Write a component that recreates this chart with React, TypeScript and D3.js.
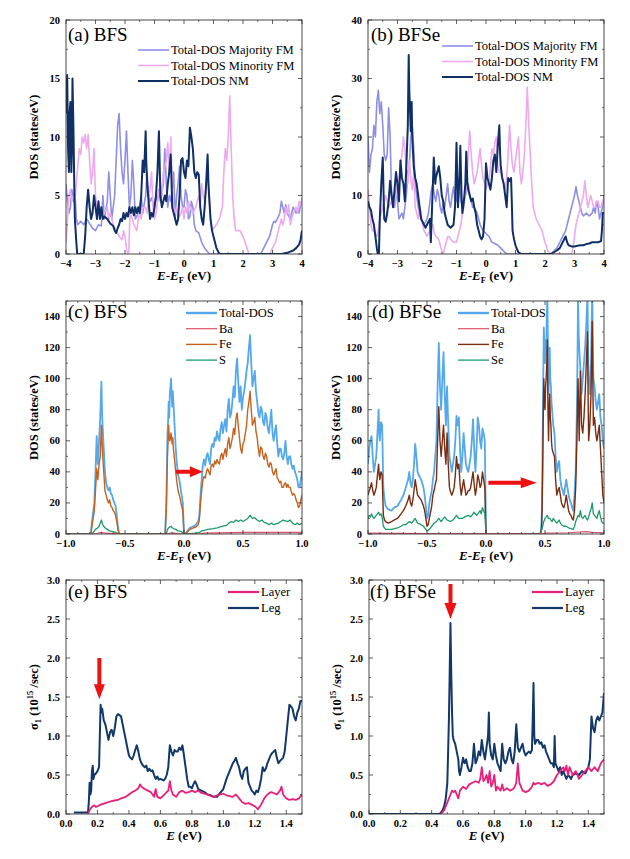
import React from "react";
import * as d3 from "d3";

type P = [number, number];

// ---------- Panel (a) BFS : total DOS ----------
const aMaj: P[] = [[-4,6],[-3.95,4.5],[-3.9,3.5],[-3.85,4],[-3.8,5.5],[-3.75,4.5],[-3.7,5.5],[-3.65,3],[-3.6,2.5],[-3.5,2.8],[-3.4,2.5],[-3.3,3],[-3.2,2.6],[-3.1,2.2],[-3.0,2],[-2.9,2.5],[-2.8,2.4],[-2.75,5],[-2.7,3],[-2.6,4.5],[-2.55,7],[-2.5,5],[-2.45,3],[-2.35,5],[-2.3,8],[-2.25,11],[-2.2,12],[-2.15,9],[-2.1,7],[-2.05,6],[-2.0,8],[-1.95,10.5],[-1.9,7],[-1.85,4],[-1.8,5],[-1.75,8],[-1.7,6],[-1.65,3],[-1.6,3.2],[-1.5,4],[-1.45,5],[-1.4,3.5],[-1.3,5],[-1.25,7],[-1.2,5],[-1.15,4.5],[-1.1,4.8],[-1.0,4],[-0.95,5],[-0.9,4.5],[-0.85,5.5],[-0.8,4.5],[-0.7,6],[-0.65,9],[-0.6,6],[-0.55,4],[-0.5,5],[-0.45,4.5],[-0.4,5.5],[-0.35,7],[-0.3,3],[-0.25,5],[-0.2,6],[-0.15,7.5],[-0.1,5],[-0.05,4],[0,4],[0.05,5.5],[0.1,5],[0.15,3],[0.2,3.2],[0.25,4.5],[0.3,4],[0.35,2.5],[0.4,2],[0.5,1.8],[0.55,1.4],[0.6,1],[0.7,0.5],[0.8,0.2],[0.85,0],[2.6,0],[2.7,0.5],[2.8,1],[2.9,1.5],[3.0,2.5],[3.05,2.8],[3.1,2.7],[3.2,3.2],[3.25,3.5],[3.3,4.5],[3.35,4],[3.4,3.5],[3.45,4.2],[3.5,3.5],[3.6,3],[3.7,4],[3.8,3.5],[3.85,3.8],[3.9,3.5],[3.95,4.2],[4,4.5]];
const aMin: P[] = [[-4,1],[-3.97,2],[-3.95,3],[-3.9,5],[-3.85,5.5],[-3.8,4.5],[-3.75,5],[-3.7,4.5],[-3.65,6],[-3.6,7.5],[-3.55,9],[-3.5,8.5],[-3.45,10],[-3.4,9.5],[-3.35,10.2],[-3.3,9],[-3.25,10.2],[-3.2,8],[-3.15,6],[-3.1,7],[-3.05,9],[-3.0,5],[-2.95,4],[-2.9,3.5],[-2.8,3],[-2.7,3.5],[-2.6,4],[-2.55,3],[-2.5,3.5],[-2.4,2.5],[-2.3,2],[-2.2,1.5],[-2.1,1.2],[-2.05,2],[-2.0,1.5],[-1.95,0.5],[-1.9,0],[-1.87,0.3],[-1.83,3.5],[-1.75,3],[-1.7,2.5],[-1.6,2],[-1.55,3],[-1.5,3.5],[-1.45,3],[-1.4,4],[-1.3,4],[-1.25,3.5],[-1.2,4.5],[-1.15,5.5],[-1.1,7],[-1.05,4],[-1.0,3],[-0.95,3.5],[-0.9,4.5],[-0.8,6],[-0.75,5],[-0.7,7],[-0.6,8],[-0.55,9.5],[-0.5,7],[-0.45,10],[-0.4,6],[-0.35,4],[-0.3,3.5],[-0.25,4],[-0.2,3],[-0.1,3.5],[-0.05,4],[0,3],[0.05,4],[0.1,3.5],[0.15,4.5],[0.2,4],[0.3,3.5],[0.4,4],[0.5,5],[0.55,4],[0.6,6],[0.65,5],[0.7,4.5],[0.75,5.5],[0.8,7],[0.85,5],[0.9,3],[0.95,2],[1.0,2.2],[1.1,2.5],[1.2,3],[1.3,4],[1.35,7],[1.4,9],[1.45,8],[1.5,10],[1.55,13.5],[1.6,9],[1.65,5],[1.7,3],[1.75,2],[1.8,2],[1.9,2],[2.0,1.5],[2.1,0.8],[2.2,0],[2.9,0],[3.0,0.5],[3.1,1],[3.2,2],[3.3,3],[3.35,2.5],[3.4,3],[3.45,4],[3.5,3.5],[3.55,4.2],[3.6,2.5],[3.65,3],[3.7,3.5],[3.8,4],[3.85,3.5],[3.9,4.5],[3.95,4.2],[4,4.8]];
const aNM: P[] = [[-4,12],[-3.98,14],[-3.96,15.3],[-3.93,9],[-3.9,7],[-3.88,12],[-3.85,13],[-3.82,7],[-3.8,9],[-3.78,15],[-3.75,11],[-3.72,6],[-3.7,3],[-3.65,1],[-3.62,0],[-3.4,0],[-3.35,1.5],[-3.3,4],[-3.25,5.5],[-3.2,4],[-3.15,3],[-3.1,3.5],[-3.05,5],[-3.0,4],[-2.95,3],[-2.9,4.5],[-2.85,3],[-2.8,4],[-2.75,3],[-2.7,3.2],[-2.6,3],[-2.5,2.6],[-2.4,2.4],[-2.35,2],[-2.3,1.8],[-2.25,2.2],[-2.2,2.5],[-2.15,3],[-2.1,2.8],[-2.05,3.5],[-2.0,3],[-1.95,3.5],[-1.9,3.2],[-1.85,4],[-1.8,3.5],[-1.75,4],[-1.7,3.3],[-1.65,4],[-1.6,3.5],[-1.55,4],[-1.5,3.5],[-1.45,5],[-1.4,8],[-1.35,7],[-1.3,10.5],[-1.28,8],[-1.25,6],[-1.2,4.5],[-1.15,3],[-1.1,3.5],[-1.05,3.2],[-1.0,4],[-0.95,5],[-0.9,7],[-0.85,10.5],[-0.8,5],[-0.75,4],[-0.7,4.5],[-0.65,5],[-0.6,4.5],[-0.55,6],[-0.5,7],[-0.45,8.5],[-0.42,6],[-0.4,4],[-0.35,3.5],[-0.3,3],[-0.25,2.5],[-0.2,3],[-0.15,5],[-0.1,8],[-0.05,8.2],[0,7],[0.05,6.5],[0.1,8],[0.15,7.5],[0.2,10.8],[0.25,10],[0.3,9],[0.35,7],[0.4,6.5],[0.45,7],[0.5,6.8],[0.55,4],[0.6,3],[0.65,2.5],[0.7,4],[0.75,6],[0.8,8.5],[0.83,6],[0.85,5],[0.9,3],[0.95,2],[1.0,1.5],[1.05,1],[1.1,0.5],[1.2,0],[3.3,0],[3.5,0.1],[3.6,0.2],[3.7,0.3],[3.8,0.5],[3.9,0.8],[3.95,1.2],[4,2]];

// ---------- Panel (b) BFSe : total DOS ----------
const bMaj: P[] = [[-4,20],[-3.97,16],[-3.95,14],[-3.9,17],[-3.85,18],[-3.8,22],[-3.75,20],[-3.7,26],[-3.65,28],[-3.6,24],[-3.55,26],[-3.5,22],[-3.45,17],[-3.4,16],[-3.35,17],[-3.3,25],[-3.25,20],[-3.2,10],[-3.15,9],[-3.1,8],[-3.05,11],[-3.0,9],[-2.95,6],[-2.9,6.5],[-2.85,7],[-2.8,6],[-2.75,8],[-2.7,10],[-2.65,14],[-2.6,15],[-2.55,20],[-2.5,22],[-2.45,18],[-2.4,12],[-2.35,10],[-2.3,8],[-2.2,6],[-2.1,5],[-2.0,6],[-1.95,7],[-1.9,9],[-1.85,11],[-1.8,12],[-1.75,10],[-1.7,9],[-1.65,11],[-1.6,10],[-1.55,8],[-1.5,7],[-1.45,9],[-1.4,8],[-1.35,10],[-1.3,12],[-1.25,9],[-1.2,8],[-1.15,10],[-1.1,11.5],[-1.05,9],[-1.0,9],[-0.95,11],[-0.9,12],[-0.85,9],[-0.8,8],[-0.75,9],[-0.7,10],[-0.65,11],[-0.6,12],[-0.55,10],[-0.5,9],[-0.45,8],[-0.4,8],[-0.35,7.5],[-0.3,7],[-0.2,5],[-0.1,4],[0,3.5],[0.1,3],[0.2,2],[0.3,1.8],[0.4,1.5],[0.5,1],[0.6,0.5],[0.7,0],[2.2,0],[2.3,0.5],[2.4,1],[2.5,2],[2.6,3],[2.7,4],[2.75,5],[2.85,7],[2.9,8],[2.95,9],[3.0,10],[3.05,11.5],[3.1,10],[3.15,9],[3.2,8],[3.25,7],[3.3,6.5],[3.4,7],[3.5,6.5],[3.6,7],[3.65,8],[3.7,7],[3.75,9],[3.8,8],[3.85,6],[3.9,7],[3.95,8],[4,10]];
const bMin: P[] = [[-4,11],[-3.95,8],[-3.9,5],[-3.85,4],[-3.8,4],[-3.75,3.5],[-3.7,3],[-3.65,4],[-3.6,6],[-3.55,7],[-3.5,8],[-3.45,9],[-3.4,10],[-3.35,9],[-3.3,8],[-3.25,8.5],[-3.2,9],[-3.15,8],[-3.1,9],[-3.05,10],[-3.0,12],[-2.95,13],[-2.9,15],[-2.85,17],[-2.8,20],[-2.75,18],[-2.7,14],[-2.65,12],[-2.6,16],[-2.55,13],[-2.5,11],[-2.45,14],[-2.4,8],[-2.35,7],[-2.3,6],[-2.25,8],[-2.2,7],[-2.15,5],[-2.1,4],[-2.0,3],[-1.95,3.5],[-1.9,4],[-1.85,5],[-1.8,5],[-1.75,3.5],[-1.7,3],[-1.6,2.5],[-1.55,1.5],[-1.5,0.5],[-1.45,0],[-1.4,1],[-1.35,2],[-1.3,3],[-1.25,3],[-1.2,2.5],[-1.1,2],[-1.0,2],[-0.95,3],[-0.9,4],[-0.85,5],[-0.8,7],[-0.75,8],[-0.7,10],[-0.65,13],[-0.6,17],[-0.55,21],[-0.5,17],[-0.45,14],[-0.4,12],[-0.35,13],[-0.3,14],[-0.25,16],[-0.2,18],[-0.15,15],[-0.1,13],[-0.05,12],[0,11],[0.05,12],[0.1,12],[0.15,15],[0.2,18],[0.25,17],[0.3,19],[0.35,20],[0.4,15],[0.45,14],[0.5,14],[0.55,13],[0.6,12],[0.65,11],[0.7,13],[0.75,17],[0.8,22],[0.85,18],[0.9,15],[0.95,14],[1.0,16],[1.05,18],[1.1,20],[1.15,14],[1.2,12],[1.25,14],[1.3,17],[1.35,22],[1.4,28.5],[1.45,22],[1.5,17],[1.55,12],[1.6,8],[1.65,7],[1.7,6],[1.8,5],[1.9,4],[2.0,2],[2.1,0.5],[2.2,0],[2.9,0],[2.95,1],[3.0,3],[3.05,5],[3.1,6],[3.15,7],[3.2,8],[3.25,9],[3.3,10],[3.35,12.5],[3.4,10],[3.45,8],[3.5,9],[3.55,10],[3.6,9],[3.65,8],[3.7,8],[3.75,9],[3.8,9],[3.85,8],[3.9,8],[3.95,9],[4,9.5]];
const bNM: P[] = [[-4,9],[-3.95,8],[-3.9,7.5],[-3.85,6],[-3.8,5],[-3.75,3],[-3.7,1],[-3.67,0],[-3.63,0],[-3.6,6],[-3.55,12],[-3.5,16.5],[-3.47,10],[-3.45,6],[-3.4,5.5],[-3.35,7],[-3.3,9],[-3.25,12.5],[-3.2,10],[-3.15,8],[-3.1,11],[-3.05,14],[-3.0,12],[-2.95,9],[-2.9,16],[-2.85,13],[-2.8,12],[-2.75,9],[-2.7,15],[-2.65,22],[-2.62,34],[-2.6,28],[-2.55,21],[-2.52,26],[-2.5,20],[-2.45,15],[-2.4,13],[-2.35,12],[-2.3,10],[-2.25,8],[-2.2,6],[-2.1,5],[-2.05,4.5],[-2.0,5],[-1.95,5.5],[-1.9,6],[-1.87,2],[-1.8,12],[-1.77,16.5],[-1.72,12],[-1.7,13],[-1.65,14],[-1.6,15],[-1.55,13],[-1.5,10],[-1.45,9],[-1.4,7],[-1.35,6],[-1.3,5],[-1.2,4.5],[-1.1,5],[-1.05,8],[-1.0,19],[-0.97,12],[-0.95,8],[-0.9,13],[-0.87,18.5],[-0.83,10],[-0.8,7],[-0.75,9],[-0.7,12],[-0.67,17.5],[-0.63,12],[-0.6,11],[-0.55,10],[-0.5,9],[-0.45,9.5],[-0.4,8],[-0.35,7],[-0.3,5],[-0.25,4],[-0.2,3],[-0.15,2.5],[-0.1,3],[-0.05,6],[0,15.5],[0.05,13],[0.1,12],[0.15,11],[0.2,13],[0.25,16],[0.3,17],[0.35,14],[0.4,18.5],[0.45,22],[0.48,17],[0.5,15],[0.55,13],[0.6,12],[0.65,10],[0.7,8],[0.75,13],[0.8,12.5],[0.85,13],[0.88,8],[0.9,4],[0.95,2.5],[1.0,1.5],[1.05,0.8],[1.1,0.3],[1.2,0],[2.2,0],[2.3,0.3],[2.4,0.6],[2.5,1],[2.6,2],[2.7,3],[2.75,2],[2.8,1.5],[2.9,1.3],[3.0,1.3],[3.1,1.4],[3.2,1.5],[3.3,1.5],[3.4,1.7],[3.5,1.8],[3.6,2],[3.7,2],[3.8,2],[3.9,2.2],[3.93,4],[3.96,7],[4,7]];

// ---------- Panel (c) BFS : projected DOS ----------
const cTotal: P[] = [[-1,0],[-0.79,0],[-0.78,8],[-0.76,20],[-0.75,40],[-0.74,63],[-0.735,50],[-0.73,45],[-0.72,60],[-0.71,75],[-0.70,98],[-0.695,80],[-0.69,70],[-0.68,55],[-0.67,40],[-0.66,33],[-0.65,30],[-0.64,28],[-0.63,30],[-0.62,26],[-0.61,25],[-0.60,22],[-0.59,20],[-0.58,18],[-0.57,12],[-0.56,5],[-0.55,0],[-0.16,0],[-0.15,20],[-0.14,65],[-0.135,72],[-0.13,85],[-0.125,75],[-0.12,90],[-0.11,100],[-0.10,82],[-0.095,92],[-0.09,85],[-0.08,70],[-0.07,55],[-0.06,45],[-0.05,38],[-0.04,35],[-0.03,30],[-0.02,25],[-0.01,20],[0,0],[0.01,0],[0.03,2],[0.05,4],[0.08,5],[0.1,6],[0.12,8],[0.13,12],[0.14,25],[0.15,35],[0.16,45],[0.17,48],[0.18,44],[0.19,50],[0.2,52],[0.21,48],[0.22,45],[0.23,55],[0.24,58],[0.25,56],[0.26,62],[0.27,60],[0.28,66],[0.29,62],[0.3,60],[0.31,68],[0.32,72],[0.33,65],[0.34,70],[0.35,74],[0.36,66],[0.37,80],[0.38,87],[0.39,75],[0.4,78],[0.41,85],[0.42,95],[0.43,88],[0.44,105],[0.45,113],[0.46,98],[0.47,85],[0.48,95],[0.49,80],[0.5,88],[0.51,92],[0.52,98],[0.53,105],[0.54,110],[0.55,120],[0.56,128],[0.57,110],[0.58,95],[0.59,100],[0.6,105],[0.61,92],[0.62,85],[0.63,78],[0.64,75],[0.65,82],[0.66,80],[0.67,72],[0.68,70],[0.69,78],[0.7,75],[0.71,68],[0.72,65],[0.73,72],[0.74,80],[0.75,65],[0.76,60],[0.77,66],[0.78,70],[0.79,58],[0.8,50],[0.81,55],[0.82,55],[0.83,50],[0.84,48],[0.85,52],[0.86,60],[0.87,50],[0.88,45],[0.89,50],[0.9,50],[0.91,45],[0.92,42],[0.93,44],[0.94,40],[0.95,38],[0.96,35],[0.97,30],[0.98,30],[0.99,35],[1.0,40]];
const cFe: P[] = [[-1,0],[-0.79,0],[-0.78,5],[-0.76,15],[-0.75,28],[-0.74,42],[-0.735,38],[-0.73,35],[-0.72,45],[-0.71,50],[-0.70,70],[-0.695,60],[-0.69,52],[-0.68,40],[-0.67,28],[-0.66,25],[-0.65,22],[-0.64,20],[-0.63,22],[-0.62,18],[-0.61,17],[-0.60,15],[-0.59,14],[-0.58,12],[-0.57,8],[-0.56,3],[-0.55,0],[-0.16,0],[-0.15,15],[-0.14,50],[-0.135,60],[-0.13,70],[-0.125,62],[-0.12,60],[-0.11,65],[-0.10,58],[-0.095,62],[-0.09,55],[-0.08,48],[-0.07,40],[-0.06,33],[-0.05,28],[-0.04,25],[-0.03,22],[-0.02,18],[-0.01,15],[0,0],[0.01,0],[0.03,1.5],[0.05,3],[0.08,4],[0.1,4.5],[0.12,6],[0.13,9],[0.14,20],[0.15,28],[0.16,35],[0.17,37],[0.18,36],[0.19,40],[0.2,42],[0.21,40],[0.22,38],[0.23,44],[0.24,45],[0.25,43],[0.26,47],[0.27,45],[0.28,48],[0.29,46],[0.3,45],[0.31,50],[0.32,52],[0.33,48],[0.34,52],[0.35,55],[0.36,50],[0.37,58],[0.38,62],[0.39,55],[0.4,58],[0.41,62],[0.42,68],[0.43,64],[0.44,74],[0.45,78],[0.46,70],[0.47,62],[0.48,55],[0.49,52],[0.5,58],[0.51,60],[0.52,65],[0.53,70],[0.54,80],[0.55,85],[0.56,92],[0.57,80],[0.58,70],[0.59,72],[0.6,75],[0.61,66],[0.62,62],[0.63,55],[0.64,50],[0.65,56],[0.66,55],[0.67,50],[0.68,48],[0.69,52],[0.7,50],[0.71,45],[0.72,43],[0.73,46],[0.74,45],[0.75,40],[0.76,38],[0.77,40],[0.78,42],[0.79,36],[0.8,35],[0.81,33],[0.82,34],[0.83,30],[0.84,30],[0.85,32],[0.86,33],[0.87,30],[0.88,32],[0.89,30],[0.9,30],[0.91,27],[0.92,25],[0.93,26],[0.94,25],[0.95,22],[0.96,20],[0.97,17],[0.98,18],[0.99,22],[1.0,25]];
const cS: P[] = [[-1,0],[-0.78,0],[-0.75,3],[-0.73,4],[-0.72,5],[-0.71,7],[-0.70,9],[-0.69,6],[-0.68,5],[-0.67,4],[-0.65,3],[-0.63,2],[-0.6,1.5],[-0.58,1],[-0.55,0],[-0.15,0],[-0.14,3],[-0.13,4],[-0.12,4.5],[-0.11,5],[-0.1,4],[-0.09,3.5],[-0.07,3],[-0.05,2],[-0.02,1.5],[0,0],[0.05,0.3],[0.1,0.5],[0.13,1],[0.15,2],[0.18,2.5],[0.2,3],[0.25,3.5],[0.28,4],[0.3,4.5],[0.33,5],[0.36,5.5],[0.38,7],[0.4,8],[0.42,7.5],[0.44,9],[0.46,8],[0.48,9],[0.5,8],[0.52,9],[0.54,10],[0.56,12],[0.58,10],[0.6,10.5],[0.62,9],[0.64,8],[0.66,9],[0.68,7.5],[0.7,7],[0.72,6],[0.74,7],[0.76,6],[0.78,6.5],[0.8,7],[0.82,8],[0.84,9],[0.86,8.5],[0.88,8],[0.9,9],[0.92,7],[0.94,6],[0.96,7],[0.98,6],[1.0,7]];
const cBa: P[] = [[-1,0],[-0.78,0],[-0.74,0.3],[-0.7,1],[-0.66,0.5],[-0.6,0.2],[-0.55,0],[-0.15,0],[-0.12,0.5],[-0.1,0.7],[-0.05,0.3],[0,0],[0.13,0],[0.16,0.5],[0.3,0.7],[0.5,1],[0.6,1.1],[0.8,1],[1.0,1]];

// ---------- Panel (d) BFSe : projected DOS ----------
const dTotal: P[] = [[-1,45],[-0.99,55],[-0.98,60],[-0.97,63],[-0.96,50],[-0.95,40],[-0.94,45],[-0.93,50],[-0.92,65],[-0.91,80],[-0.905,65],[-0.9,60],[-0.89,72],[-0.88,70],[-0.87,30],[-0.86,22],[-0.85,18],[-0.83,16],[-0.8,15],[-0.78,17],[-0.75,18],[-0.72,22],[-0.7,25],[-0.68,30],[-0.66,35],[-0.65,40],[-0.64,33],[-0.63,30],[-0.62,35],[-0.61,45],[-0.6,58],[-0.59,50],[-0.58,40],[-0.57,38],[-0.55,35],[-0.53,30],[-0.52,25],[-0.51,18],[-0.5,10],[-0.49,12],[-0.48,20],[-0.46,28],[-0.45,35],[-0.44,40],[-0.43,50],[-0.42,60],[-0.41,95],[-0.4,123],[-0.39,95],[-0.38,80],[-0.37,100],[-0.36,117],[-0.35,90],[-0.34,70],[-0.335,85],[-0.33,95],[-0.32,70],[-0.31,50],[-0.3,45],[-0.29,40],[-0.28,45],[-0.27,50],[-0.26,60],[-0.25,76],[-0.24,70],[-0.23,75],[-0.22,55],[-0.21,40],[-0.2,50],[-0.19,65],[-0.18,55],[-0.17,45],[-0.16,42],[-0.15,40],[-0.14,45],[-0.13,50],[-0.12,60],[-0.11,74],[-0.1,55],[-0.09,40],[-0.08,55],[-0.07,75],[-0.06,70],[-0.05,60],[-0.04,55],[-0.03,68],[-0.02,65],[-0.01,60],[-0.005,30],[0,0],[0.46,0],[0.47,5],[0.475,20],[0.48,60],[0.485,100],[0.49,133],[0.495,120],[0.5,110],[0.505,125],[0.51,115],[0.515,140],[0.52,155],[0.525,120],[0.53,90],[0.535,110],[0.54,120],[0.545,100],[0.55,95],[0.555,85],[0.56,80],[0.57,70],[0.58,65],[0.59,50],[0.6,40],[0.61,45],[0.62,47],[0.63,35],[0.64,30],[0.65,28],[0.66,25],[0.67,30],[0.68,35],[0.69,30],[0.7,25],[0.71,22],[0.72,20],[0.73,17],[0.74,15],[0.75,25],[0.76,40],[0.77,80],[0.775,110],[0.78,155],[0.785,130],[0.79,120],[0.8,106],[0.81,90],[0.82,100],[0.83,110],[0.84,120],[0.85,135],[0.86,155],[0.865,120],[0.87,100],[0.88,90],[0.89,110],[0.9,155],[0.905,130],[0.91,100],[0.92,95],[0.93,85],[0.94,80],[0.95,85],[0.96,90],[0.97,75],[0.98,70],[0.99,60],[1.0,55]];
const dFe: P[] = [[-1,25],[-0.99,28],[-0.98,30],[-0.97,33],[-0.96,28],[-0.95,25],[-0.94,27],[-0.93,30],[-0.92,38],[-0.91,45],[-0.905,38],[-0.9,35],[-0.89,40],[-0.88,38],[-0.87,12],[-0.86,9],[-0.85,8],[-0.83,7],[-0.8,8],[-0.78,9],[-0.75,10],[-0.72,13],[-0.7,15],[-0.68,18],[-0.66,22],[-0.65,25],[-0.64,20],[-0.63,18],[-0.62,22],[-0.61,28],[-0.6,35],[-0.59,30],[-0.58,25],[-0.57,24],[-0.55,22],[-0.53,18],[-0.52,15],[-0.51,10],[-0.5,5],[-0.49,6],[-0.48,10],[-0.46,18],[-0.45,25],[-0.44,28],[-0.43,32],[-0.42,35],[-0.41,60],[-0.4,82],[-0.39,60],[-0.38,50],[-0.37,60],[-0.36,70],[-0.35,55],[-0.34,45],[-0.335,55],[-0.33,65],[-0.32,45],[-0.31,30],[-0.3,27],[-0.29,25],[-0.28,27],[-0.27,30],[-0.26,38],[-0.25,50],[-0.24,42],[-0.23,45],[-0.22,32],[-0.21,25],[-0.2,30],[-0.19,35],[-0.18,30],[-0.17,25],[-0.16,26],[-0.15,28],[-0.14,28],[-0.13,30],[-0.12,35],[-0.11,40],[-0.1,32],[-0.09,25],[-0.08,30],[-0.07,38],[-0.06,35],[-0.05,30],[-0.04,32],[-0.03,40],[-0.02,35],[-0.01,30],[-0.005,15],[0,0],[0.46,0],[0.47,3],[0.475,15],[0.48,40],[0.485,75],[0.49,100],[0.495,85],[0.5,80],[0.505,95],[0.51,100],[0.515,110],[0.52,125],[0.525,80],[0.53,60],[0.535,80],[0.54,90],[0.545,75],[0.55,70],[0.555,60],[0.56,55],[0.57,52],[0.58,50],[0.59,35],[0.6,25],[0.61,28],[0.62,30],[0.63,25],[0.64,20],[0.65,18],[0.66,17],[0.67,20],[0.68,25],[0.69,20],[0.7,15],[0.71,13],[0.72,12],[0.73,10],[0.74,9],[0.75,15],[0.76,30],[0.77,60],[0.775,80],[0.78,100],[0.785,80],[0.79,60],[0.8,105],[0.81,70],[0.82,65],[0.83,75],[0.84,90],[0.85,110],[0.86,130],[0.865,90],[0.87,60],[0.88,70],[0.89,90],[0.9,137],[0.905,100],[0.91,70],[0.92,75],[0.93,65],[0.94,60],[0.95,65],[0.96,70],[0.97,55],[0.98,40],[0.99,25],[1.0,20]];
const dSe: P[] = [[-1,10],[-0.99,12],[-0.98,11],[-0.97,13],[-0.96,11],[-0.95,10],[-0.94,11],[-0.93,12],[-0.92,13],[-0.91,14],[-0.9,12],[-0.89,13],[-0.88,11],[-0.87,5],[-0.85,3],[-0.8,3],[-0.75,4],[-0.72,5],[-0.7,6],[-0.68,6],[-0.65,8],[-0.63,7],[-0.6,10],[-0.58,7],[-0.55,6],[-0.53,5],[-0.5,2],[-0.48,3],[-0.46,5],[-0.44,7],[-0.42,8],[-0.4,10],[-0.38,8],[-0.36,10],[-0.35,11],[-0.33,9],[-0.3,8],[-0.28,9],[-0.25,12],[-0.23,10],[-0.2,10],[-0.18,11],[-0.15,12],[-0.13,11],[-0.1,14],[-0.08,12],[-0.07,13],[-0.05,15],[-0.04,13],[-0.03,17],[-0.02,15],[-0.01,13],[0,0],[0.46,0],[0.47,2],[0.48,5],[0.49,8],[0.5,10],[0.51,11],[0.52,12],[0.53,10],[0.54,10],[0.55,9],[0.56,8],[0.57,10],[0.58,9],[0.59,8],[0.6,7],[0.61,8],[0.62,9],[0.63,7],[0.64,6],[0.66,5],[0.68,5],[0.7,4],[0.72,3.5],[0.74,3],[0.75,5],[0.76,8],[0.77,10],[0.78,12],[0.79,11],[0.8,15],[0.81,11],[0.82,10],[0.83,11],[0.84,12],[0.85,10],[0.86,9],[0.87,11],[0.88,14],[0.89,16],[0.9,20],[0.91,13],[0.92,12],[0.93,11],[0.94,10],[0.95,13],[0.96,15],[0.97,11],[0.98,8],[0.99,7],[1.0,7]];
const dBa: P[] = [[-1,0.5],[-0.5,0.3],[0,0.3],[0.46,0],[0.5,0.5],[0.7,0.8],[0.85,1.5],[0.9,1],[1,0.8]];

// ---------- Panel (e) BFS : optical conductivity ----------
const eLeg: P[] = [[0.05,0.02],[0.1,0.02],[0.14,0.02],[0.145,0.15],[0.15,0.4],[0.155,0.25],[0.16,0.3],[0.165,0.55],[0.17,0.62],[0.175,0.45],[0.18,0.5],[0.19,0.52],[0.2,0.55],[0.21,0.6],[0.215,1.0],[0.22,1.4],[0.225,1.3],[0.23,1.35],[0.24,1.2],[0.25,1.15],[0.26,1.05],[0.27,0.95],[0.28,1.05],[0.29,1.08],[0.3,1.0],[0.31,1.1],[0.32,1.25],[0.33,1.28],[0.34,1.27],[0.35,1.25],[0.36,1.15],[0.37,1.05],[0.38,0.95],[0.39,0.85],[0.4,0.75],[0.41,0.72],[0.42,0.7],[0.43,0.75],[0.44,0.82],[0.45,0.88],[0.46,0.8],[0.47,0.7],[0.48,0.65],[0.49,0.62],[0.5,0.6],[0.51,0.62],[0.52,0.55],[0.53,0.58],[0.54,0.55],[0.55,0.56],[0.56,0.5],[0.57,0.45],[0.58,0.48],[0.59,0.44],[0.6,0.45],[0.61,0.44],[0.62,0.43],[0.63,0.45],[0.64,0.5],[0.65,0.6],[0.66,0.88],[0.67,0.8],[0.68,0.75],[0.69,0.82],[0.7,0.8],[0.71,0.8],[0.72,0.85],[0.73,0.82],[0.74,0.88],[0.75,0.75],[0.76,0.6],[0.77,0.45],[0.78,0.35],[0.79,0.35],[0.8,0.33],[0.81,0.38],[0.82,0.42],[0.83,0.38],[0.84,0.32],[0.86,0.3],[0.88,0.28],[0.9,0.25],[0.92,0.24],[0.94,0.22],[0.96,0.22],[0.98,0.27],[1.0,0.32],[1.02,0.45],[1.04,0.55],[1.06,0.65],[1.07,0.68],[1.08,0.72],[1.09,0.65],[1.1,0.6],[1.11,0.5],[1.12,0.45],[1.13,0.55],[1.14,0.58],[1.15,0.6],[1.16,0.4],[1.17,0.35],[1.18,0.3],[1.19,0.28],[1.2,0.25],[1.21,0.3],[1.22,0.28],[1.23,0.35],[1.24,0.45],[1.25,0.6],[1.26,0.55],[1.27,0.58],[1.28,0.65],[1.29,0.7],[1.3,0.75],[1.31,0.78],[1.32,0.8],[1.33,0.82],[1.34,0.72],[1.35,0.65],[1.36,0.68],[1.37,0.7],[1.38,0.72],[1.39,0.8],[1.4,1.0],[1.41,1.2],[1.42,1.4],[1.43,1.38],[1.44,1.35],[1.45,1.25],[1.46,1.2],[1.47,1.3],[1.48,1.35],[1.49,1.45],[1.5,1.45]];
const eLayer: P[] = [[0.14,0],[0.15,0.05],[0.16,0.08],[0.17,0.1],[0.18,0.11],[0.19,0.09],[0.2,0.1],[0.22,0.12],[0.25,0.14],[0.28,0.16],[0.3,0.17],[0.33,0.18],[0.35,0.2],[0.38,0.22],[0.4,0.25],[0.42,0.28],[0.44,0.3],[0.46,0.33],[0.47,0.38],[0.48,0.35],[0.5,0.32],[0.52,0.3],[0.54,0.28],[0.56,0.22],[0.57,0.32],[0.58,0.22],[0.6,0.2],[0.62,0.24],[0.64,0.28],[0.65,0.3],[0.66,0.42],[0.67,0.3],[0.68,0.25],[0.7,0.22],[0.72,0.28],[0.74,0.3],[0.76,0.27],[0.78,0.28],[0.8,0.3],[0.82,0.28],[0.84,0.3],[0.86,0.27],[0.88,0.26],[0.9,0.25],[0.92,0.23],[0.94,0.22],[0.96,0.24],[0.98,0.25],[1.0,0.26],[1.02,0.24],[1.04,0.23],[1.06,0.22],[1.08,0.25],[1.1,0.2],[1.12,0.15],[1.14,0.13],[1.16,0.14],[1.18,0.12],[1.2,0.1],[1.22,0.06],[1.24,0.12],[1.26,0.2],[1.28,0.25],[1.3,0.28],[1.32,0.27],[1.34,0.25],[1.36,0.3],[1.37,0.35],[1.38,0.25],[1.4,0.2],[1.42,0.18],[1.44,0.19],[1.46,0.18],[1.48,0.2],[1.5,0.25]];

// ---------- Panel (f) BFSe : optical conductivity ----------
const fLeg: P[] = [[0,0],[0.45,0],[0.46,0.02],[0.47,0.05],[0.48,0.1],[0.49,0.2],[0.5,0.4],[0.505,0.8],[0.51,1.2],[0.515,1.8],[0.52,2.45],[0.525,1.8],[0.53,1.3],[0.535,1.0],[0.54,0.95],[0.55,0.9],[0.56,0.8],[0.57,0.7],[0.575,0.55],[0.58,0.5],[0.59,0.6],[0.6,0.72],[0.61,0.65],[0.62,0.7],[0.63,0.6],[0.64,0.55],[0.65,0.55],[0.66,0.65],[0.67,0.9],[0.68,0.65],[0.69,0.7],[0.7,0.8],[0.71,0.75],[0.72,0.95],[0.73,0.8],[0.74,0.7],[0.75,0.85],[0.76,1.0],[0.765,1.3],[0.77,0.9],[0.78,0.75],[0.79,0.7],[0.8,0.9],[0.81,0.75],[0.82,0.65],[0.83,0.6],[0.84,0.55],[0.85,0.9],[0.86,0.7],[0.87,0.65],[0.88,0.7],[0.89,0.8],[0.9,0.85],[0.91,0.7],[0.92,0.65],[0.93,0.8],[0.94,1.15],[0.95,0.85],[0.96,0.8],[0.97,0.85],[0.98,0.9],[0.99,0.8],[1.0,0.75],[1.01,0.78],[1.02,0.8],[1.03,0.78],[1.04,0.82],[1.045,1.2],[1.05,1.68],[1.055,1.0],[1.06,0.9],[1.07,0.95],[1.08,0.95],[1.09,0.9],[1.1,0.92],[1.11,0.85],[1.12,0.88],[1.13,0.8],[1.14,0.75],[1.15,0.7],[1.16,0.65],[1.17,0.65],[1.18,0.6],[1.185,1.0],[1.19,0.65],[1.2,0.6],[1.21,0.55],[1.22,0.6],[1.23,0.5],[1.24,0.55],[1.25,0.5],[1.26,0.45],[1.27,0.5],[1.28,0.48],[1.29,0.45],[1.3,0.5],[1.32,0.52],[1.34,0.5],[1.36,0.55],[1.38,0.52],[1.4,0.6],[1.41,0.7],[1.42,1.25],[1.43,1.1],[1.44,1.05],[1.45,1.2],[1.46,1.25],[1.47,1.2],[1.48,1.25],[1.49,1.3],[1.5,1.55]];
const fLayer: P[] = [[0.46,0],[0.48,0.05],[0.5,0.15],[0.52,0.25],[0.53,0.3],[0.54,0.28],[0.55,0.3],[0.56,0.25],[0.57,0.2],[0.58,0.3],[0.6,0.35],[0.62,0.32],[0.64,0.38],[0.66,0.4],[0.68,0.42],[0.7,0.4],[0.71,0.45],[0.72,0.6],[0.73,0.42],[0.74,0.45],[0.75,0.5],[0.76,0.4],[0.77,0.55],[0.78,0.35],[0.79,0.4],[0.8,0.5],[0.81,0.3],[0.82,0.35],[0.84,0.3],[0.85,0.38],[0.86,0.3],[0.88,0.33],[0.9,0.3],[0.92,0.32],[0.93,0.35],[0.94,0.4],[0.95,0.65],[0.96,0.4],[0.97,0.35],[0.98,0.3],[1.0,0.28],[1.02,0.3],[1.04,0.35],[1.05,0.4],[1.06,0.38],[1.08,0.4],[1.1,0.38],[1.12,0.4],[1.14,0.36],[1.16,0.38],[1.18,0.42],[1.2,0.5],[1.22,0.55],[1.24,0.6],[1.25,0.55],[1.26,0.62],[1.27,0.5],[1.28,0.6],[1.3,0.5],[1.32,0.55],[1.34,0.45],[1.36,0.5],[1.38,0.55],[1.4,0.6],[1.42,0.55],[1.44,0.6],[1.46,0.55],[1.48,0.65],[1.5,0.7]];

// ---------- ticks ----------
const ticksEwide = [-4, -3, -2, -1, 0, 1, 2, 3, 4];
const ticksDOSa = [0, 5, 10, 15, 20];
const ticksDOSb = [0, 10, 20, 30, 40];
const ticksEnarrow = [-1, -0.5, 0, 0.5, 1];
const ticksPDOS = [0, 20, 40, 60, 80, 100, 120, 140];
const ticksEopt = [0, 0.2, 0.4, 0.6, 0.8, 1.0, 1.2, 1.4];
const ticksSigma = [0, 0.5, 1.0, 1.5, 2.0, 2.5, 3.0];

// ---------- legends ----------
const legendA = ["Total-DOS Majority FM", "Total-DOS Minority FM", "Total-DOS NM"];
const legendC = ["Total-DOS", "Ba", "Fe", "S"];
const legendD = ["Total-DOS", "Ba", "Fe", "Se"];
const legendE = ["Layer", "Leg"];

const FONT = "'Liberation Serif', 'Times New Roman', serif";
const C = {
  maj: "#8f8fe6",
  min: "#eeaaee",
  nm: "#0f2f66",
  tot: "#55a8ec",
  ba: "#e0506a",
  feC: "#c4621e",
  feD: "#7a2c10",
  s: "#1e9a6a",
  layer: "#e8207a",
  leg: "#12386a",
  arrow: "#ee1111",
};

type Series = { data: P[]; color: string; w: number };
type Arrow = { from: P; to: P; head: number; hw: number; bw: number };
type Cfg = {
  id: string;
  l: number; r: number; t: number; b: number;
  xd: [number, number]; yd: [number, number];
  xt: number[]; yt: number[]; xm: number; ym: number;
  xf: (v: number) => string; yf: (v: number) => string;
  series: Series[];
  legend: { labels: string[]; colors: string[]; widths: number[]; x: number; y: number; len: number; dy: number };
  label: string; lx: number; ly: number;
  xTitle: "EF" | "E"; yTitle: "DOS" | "sigma";
  arrow?: Arrow;
};

function Panel({ c }: { c: Cfg }) {
  const x = d3.scaleLinear().domain(c.xd).range([c.l, c.r]);
  const y = d3.scaleLinear().domain(c.yd).range([c.b, c.t]);
  const line = d3.line<P>().x((d) => x(d[0])).y((d) => y(d[1]));
  const minorX = d3.range(c.xd[0], c.xd[1] + 1e-9, c.xm).filter((v) => !c.xt.some((t) => Math.abs(t - v) < 1e-6));
  const minorY = d3.range(c.yd[0], c.yd[1] + 1e-9, c.ym).filter((v) => !c.yt.some((t) => Math.abs(t - v) < 1e-6));
  const tickCol = "#333";
  const midX = (c.l + c.r) / 2;
  const midY = (c.t + c.b) / 2;
  let arrowEl = null;
  if (c.arrow) {
    const a = c.arrow;
    const x1 = x(a.from[0]), y1 = y(a.from[1]), x2 = x(a.to[0]), y2 = y(a.to[1]);
    const ang = Math.atan2(y2 - y1, x2 - x1);
    const len = Math.hypot(x2 - x1, y2 - y1);
    const pts: P[] = [
      [0, -a.bw / 2], [len - a.head, -a.bw / 2], [len - a.head, -a.hw / 2], [len, 0],
      [len - a.head, a.hw / 2], [len - a.head, a.bw / 2], [0, a.bw / 2],
    ];
    const poly = pts
      .map(([px, py]) => [x1 + px * Math.cos(ang) - py * Math.sin(ang), y1 + px * Math.sin(ang) + py * Math.cos(ang)])
      .map((p) => p.join(","))
      .join(" ");
    arrowEl = <polygon points={poly} fill={C.arrow} />;
  }
  return (
    <g>
      <defs>
        <clipPath id={"clip-" + c.id}>
          <rect x={c.l} y={c.t} width={c.r - c.l} height={c.b - c.t} />
        </clipPath>
      </defs>
      <g clipPath={`url(#clip-${c.id})`}>
        {c.series.map((s, i) => (
          <path key={i} d={line(s.data) || ""} fill="none" stroke={s.color} strokeWidth={s.w} strokeLinejoin="round" />
        ))}
      </g>
      {c.xt.map((v) => (
        <g key={"xt" + v}>
          <line x1={x(v)} x2={x(v)} y1={c.b} y2={c.b - 4} stroke={tickCol} strokeWidth={0.8} />
          <line x1={x(v)} x2={x(v)} y1={c.t} y2={c.t + 4} stroke={tickCol} strokeWidth={0.8} />
          <text x={x(v)} y={c.b + 13} textAnchor="middle" fontSize={10.5} fontWeight="bold" fontFamily={FONT}>{c.xf(v)}</text>
        </g>
      ))}
      {minorX.map((v) => (
        <g key={"xm" + v}>
          <line x1={x(v)} x2={x(v)} y1={c.b} y2={c.b - 2} stroke={tickCol} strokeWidth={0.7} />
          <line x1={x(v)} x2={x(v)} y1={c.t} y2={c.t + 2} stroke={tickCol} strokeWidth={0.7} />
        </g>
      ))}
      {c.yt.map((v) => (
        <g key={"yt" + v}>
          <line x1={c.l} x2={c.l + 4} y1={y(v)} y2={y(v)} stroke={tickCol} strokeWidth={0.8} />
          <line x1={c.r} x2={c.r - 4} y1={y(v)} y2={y(v)} stroke={tickCol} strokeWidth={0.8} />
          <text x={c.l - 6} y={y(v) + 3.5} textAnchor="end" fontSize={10.5} fontWeight="bold" fontFamily={FONT}>{c.yf(v)}</text>
        </g>
      ))}
      {minorY.map((v) => (
        <g key={"ym" + v}>
          <line x1={c.l} x2={c.l + 2} y1={y(v)} y2={y(v)} stroke={tickCol} strokeWidth={0.7} />
          <line x1={c.r} x2={c.r - 2} y1={y(v)} y2={y(v)} stroke={tickCol} strokeWidth={0.7} />
        </g>
      ))}
      <rect x={c.l} y={c.t} width={c.r - c.l} height={c.b - c.t} fill="none" stroke="#333" strokeWidth={0.9} />
      {arrowEl}
      <text x={c.lx} y={c.ly} fontSize={19} fontFamily={FONT}>{c.label}</text>
      {c.legend.labels.map((lab, i) => (
        <g key={"lg" + i}>
          <line x1={c.legend.x} x2={c.legend.x + c.legend.len} y1={c.legend.y + i * c.legend.dy} y2={c.legend.y + i * c.legend.dy}
            stroke={c.legend.colors[i]} strokeWidth={c.legend.widths[i]} />
          <text x={c.legend.x + c.legend.len + 2} y={c.legend.y + i * c.legend.dy + 4} fontSize={12.5} fontFamily={FONT}>{lab}</text>
        </g>
      ))}
      <text x={midX} y={c.b + 26} textAnchor="middle" fontSize={13} fontWeight="bold" fontFamily={FONT}>
        {c.xTitle === "EF" ? (
          <>
            <tspan fontStyle="italic">E</tspan>
            <tspan>-</tspan>
            <tspan fontStyle="italic">E</tspan>
            <tspan fontSize={8.5} dy={3}>F</tspan>
            <tspan dy={-3}> (eV)</tspan>
          </>
        ) : (
          <>
            <tspan fontStyle="italic">E</tspan>
            <tspan> (eV)</tspan>
          </>
        )}
      </text>
      <text transform={`translate(${c.l - 28},${midY}) rotate(-90)`} textAnchor="middle" fontSize={12.5} fontWeight="bold" fontFamily={FONT}>
        {c.yTitle === "DOS" ? (
          "DOS (states/eV)"
        ) : (
          <>
            <tspan>σ</tspan>
            <tspan fontSize={8.5} dy={3}>1</tspan>
            <tspan dy={-3}> (10</tspan>
            <tspan fontSize={8.5} dy={-5}>15</tspan>
            <tspan dy={5}> /sec)</tspan>
          </>
        )}
      </text>
    </g>
  );
}

const fmt0 = (v: number) => d3.format("d")(v);
const fmt1 = (v: number) => d3.format(".1f")(v);

const panels: Cfg[] = [
  {
    id: "a", l: 66, r: 302, t: 20, b: 254, xd: [-4, 4], yd: [0, 20], xt: ticksEwide, yt: ticksDOSa, xm: 0.5, ym: 2.5,
    xf: fmt0, yf: fmt0,
    series: [{ data: aMaj, color: C.maj, w: 1.6 }, { data: aMin, color: C.min, w: 1.6 }, { data: aNM, color: C.nm, w: 2.0 }],
    legend: { labels: legendA, colors: [C.maj, C.min, C.nm], widths: [1.6, 1.6, 2.0], x: 138, y: 50, len: 31, dy: 15.5 },
    label: "(a) BFS", lx: 68, ly: 41, xTitle: "EF", yTitle: "DOS",
  },
  {
    id: "b", l: 368, r: 604, t: 20, b: 254, xd: [-4, 4], yd: [0, 40], xt: ticksEwide, yt: ticksDOSb, xm: 0.5, ym: 5,
    xf: fmt0, yf: fmt0,
    series: [{ data: bMaj, color: C.maj, w: 1.6 }, { data: bMin, color: C.min, w: 1.6 }, { data: bNM, color: C.nm, w: 2.0 }],
    legend: { labels: legendA, colors: [C.maj, C.min, C.nm], widths: [1.6, 1.6, 2.0], x: 442, y: 46, len: 31, dy: 15.5 },
    label: "(b) BFSe", lx: 371, ly: 41, xTitle: "EF", yTitle: "DOS",
  },
  {
    id: "c", l: 66, r: 302, t: 301, b: 534, xd: [-1, 1], yd: [0, 150], xt: ticksEnarrow, yt: ticksPDOS, xm: 0.1, ym: 10,
    xf: fmt1, yf: fmt0,
    series: [{ data: cTotal, color: C.tot, w: 1.8 }, { data: cFe, color: C.feC, w: 1.4 }, { data: cS, color: C.s, w: 1.3 }, { data: cBa, color: C.ba, w: 1.2 }],
    legend: { labels: legendC, colors: [C.tot, C.ba, C.feC, C.s], widths: [2.4, 1.2, 1.4, 1.3], x: 186, y: 313, len: 31, dy: 15.7 },
    label: "(c) BFS", lx: 68, ly: 318, xTitle: "EF", yTitle: "DOS",
    arrow: { from: [-0.07, 40], to: [0.16, 40], head: 13, hw: 11, bw: 4 },
  },
  {
    id: "d", l: 368, r: 604, t: 301, b: 534, xd: [-1, 1], yd: [0, 150], xt: ticksEnarrow, yt: ticksPDOS, xm: 0.1, ym: 10,
    xf: fmt1, yf: fmt0,
    series: [{ data: dTotal, color: C.tot, w: 1.8 }, { data: dFe, color: C.feD, w: 1.4 }, { data: dSe, color: C.s, w: 1.3 }, { data: dBa, color: C.ba, w: 1.2 }],
    legend: { labels: legendD, colors: [C.tot, C.ba, C.feD, C.s], widths: [2.4, 1.2, 1.4, 1.3], x: 458, y: 313, len: 31, dy: 15.7 },
    label: "(d) BFSe", lx: 372, ly: 318, xTitle: "EF", yTitle: "DOS",
    arrow: { from: [0.02, 33], to: [0.43, 33], head: 16, hw: 11, bw: 4 },
  },
  {
    id: "e", l: 66, r: 302, t: 580, b: 814, xd: [0, 1.5], yd: [0, 3], xt: ticksEopt, yt: ticksSigma, xm: 0.1, ym: 0.25,
    xf: fmt1, yf: fmt1,
    series: [{ data: eLeg, color: C.leg, w: 2.0 }, { data: eLayer, color: C.layer, w: 1.8 }],
    legend: { labels: legendE, colors: [C.layer, C.leg], widths: [2.2, 2.2], x: 228, y: 592, len: 31, dy: 16 },
    label: "(e) BFS", lx: 68, ly: 598, xTitle: "E", yTitle: "sigma",
    arrow: { from: [0.212, 2.0], to: [0.212, 1.47], head: 15, hw: 11, bw: 4 },
  },
  {
    id: "f", l: 369, r: 604, t: 580, b: 814, xd: [0, 1.5], yd: [0, 3], xt: ticksEopt, yt: ticksSigma, xm: 0.1, ym: 0.25,
    xf: fmt1, yf: fmt1,
    series: [{ data: fLeg, color: C.leg, w: 2.0 }, { data: fLayer, color: C.layer, w: 1.8 }],
    legend: { labels: legendE, colors: [C.layer, C.leg], widths: [2.2, 2.2], x: 532, y: 592, len: 31, dy: 16 },
    label: "(f) BFSe", lx: 370, ly: 598, xTitle: "E", yTitle: "sigma",
    arrow: { from: [0.52, 2.95], to: [0.52, 2.5], head: 16, hw: 12, bw: 4 },
  },
];

export default function App() {
  return (
    <svg width={630} height={859} style={{ position: "absolute", left: 0, top: 0, background: "#fff" }}>
      <rect width={630} height={859} fill="#fff" />
      {panels.map((p) => (
        <Panel key={p.id} c={p} />
      ))}
    </svg>
  );
}
